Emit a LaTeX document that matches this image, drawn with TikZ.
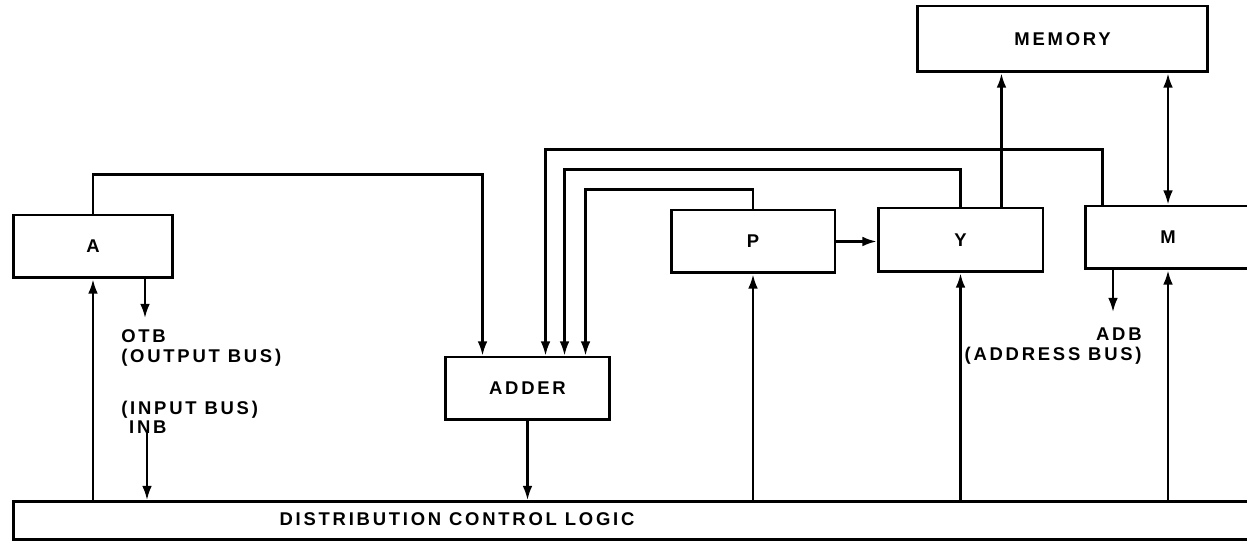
\documentclass[tikz,border=0pt]{standalone}
\usepackage{fontspec}
\setmainfont{Liberation Sans}
\usetikzlibrary{arrows.meta}
\usetikzlibrary{calc}

\newcommand{\letterfont}{\bfseries\fontsize{10.5}{11}\selectfont\addfontfeatures{LetterSpace=15}}
\tikzset{
  unit/.style={draw, line width=1.7pt, font=\letterfont, inner sep=0pt},
  lbl/.style={font=\letterfont, inner sep=0pt},
  bus/.style={line width=1.2pt, -{Latex[length=8pt,width=5.5pt]}},
  busboth/.style={line width=1.2pt, {Latex[length=8pt,width=5.5pt]}-{Latex[length=8pt,width=5.5pt]}}
}

\begin{document}
\begin{tikzpicture}[x=0.02cm, y=-0.02cm]
  \useasboundingbox (0,0) rectangle (1247,546);
  % registers, adder and memory
  \node (A) at (93,246.5) [unit, minimum width=3.2cm, minimum height=1.26cm] {A};
  \node (adder) at (527.5,388.5) [unit, minimum width=3.3cm, minimum height=1.26cm] {ADDER};
  \node (P) at (753,241.5) [unit, minimum width=3.28cm, minimum height=1.26cm] {P};
  \node (Y) at (960.5,240) [unit, minimum width=3.3cm, minimum height=1.28cm] {Y};
  \node (M) at (1168,237.5) [unit, minimum width=3.32cm, minimum height=1.26cm] {M};
  \node (memory) at (1062.5,39) [unit, minimum width=5.82cm, minimum height=1.32cm] {MEMORY};
  \node (dcl) at (12,500) [unit, anchor=north west, minimum width=25cm, minimum height=0.76cm] {};
  \node (dcltext) at (457,519) [lbl] {DISTRIBUTION CONTROL LOGIC};

  % bus ends and labels
  \coordinate (otb) at (145,318);
  \coordinate (inb) at (147,432);
  \coordinate (adb) at (1113,312);
  \coordinate (ytap) at ($(Y.north east)+(-43,0)$);
  \node (otblbl) at (121,348) [lbl, anchor=west, align=left] {OTB\\(OUTPUT BUS)};
  \node (inblbl) at (121,417) [lbl, anchor=west, align=left] {(INPUT BUS)\\\ INB};
  \node (adblbl) at (1142,346) [lbl, anchor=east, align=right] {ADB\\(ADDRESS BUS)};

  % connectors
  \draw [bus] (A.south -| otb) -- (otb);
  \draw [bus] (inb) -- (inb |- dcl.north);
  \draw [bus] (A.south |- dcl.north) -- (A.south);
  \draw [bus] (A.north) -- ++(0,-39) -| ($(adder.north west)+(39,0)$);
  \draw [bus] ($(M.north west)+(19,0)$) -- ++(0,-55) -| ($(adder.north west)+(102,0)$);
  \draw [bus] (Y.north) -- ++(0,-37) -| ($(adder.north west)+(121,0)$);
  \draw [bus] (P.north) -- ++(0,-19) -| ($(adder.north west)+(142,0)$);
  \draw [bus] (adder.south) -- (adder.south |- dcl.north);
  \draw [bus] (P.south |- dcl.north) -- (P.south);
  \draw [bus] (Y.south |- dcl.north) -- (Y.south);
  \draw [bus] (M.south |- dcl.north) -- (M.south);
  \draw [bus] (P.east) -- (P.east -| Y.west);
  \draw [bus] (ytap) -- (ytap |- memory.south);
  \draw [busboth] (M.north) -- (M.north |- memory.south);
  \draw [bus] (M.south -| adb) -- (adb);
\end{tikzpicture}
\end{document}
